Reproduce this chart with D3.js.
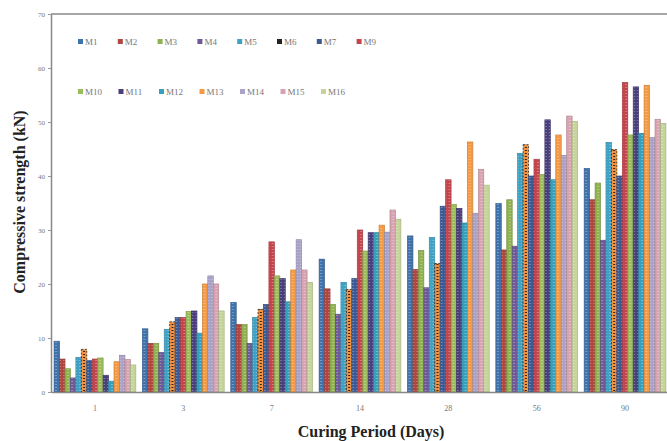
<!DOCTYPE html>
<html>
<head>
<meta charset="utf-8">
<script src="https://cdn.jsdelivr.net/npm/d3@7"></script>
<style>
  body { margin: 0; background: #fff; }
  svg { display: block; }
</style>
</head>
<body>
<div class="chart"></div>
<script>
// curing periods (days)
const periods = ["1", "3", "7", "14", "28", "56", "90"];
const mixes = ["M1", "M2", "M3", "M4", "M5", "M6", "M7", "M9", "M10", "M11", "M12", "M13", "M14", "M15", "M16"];
const colors = ["#3f72ab", "#b0463f", "#8fb150", "#6f5a98", "#3fa2c4", "#f39241", "#3b5a93", "#c4444c",
                "#9cbb5a", "#4a3f7d", "#35a0bd", "#f59a43", "#a9a3c8", "#d8a3b0", "#c5d49b"];

// strength per mix, one value per curing period
const M1  = [9.4, 11.7, 16.6, 24.6, 28.9, 34.9, 41.4];
const M2  = [6.1, 9.0, 12.5, 19.1, 22.7, 26.3, 35.6];
const M3  = [4.3, 9.0, 12.5, 16.2, 26.2, 35.6, 38.7];
const M4  = [2.6, 7.3, 9.0, 14.4, 19.3, 27.0, 28.1];
const M5  = [6.4, 11.6, 13.8, 20.3, 28.6, 44.2, 46.2];
const M6  = [7.9, 13.0, 15.3, 19.0, 23.8, 45.8, 44.9];
const M7  = [5.8, 13.8, 16.2, 21.0, 34.4, 40.0, 40.0];
const M9  = [6.1, 13.8, 27.8, 30.0, 39.3, 43.1, 57.3];
const M10 = [6.3, 14.9, 21.5, 26.1, 34.7, 40.3, 47.6];
const M11 = [3.1, 15.0, 21.0, 29.5, 34.0, 50.4, 56.5];
const M12 = [2.0, 10.9, 16.7, 29.5, 31.3, 39.3, 47.9];
const M13 = [5.6, 20.0, 22.6, 30.9, 46.3, 47.6, 56.8];
const M14 = [6.8, 21.5, 28.2, 29.6, 33.1, 43.8, 47.1];
const M15 = [6.0, 20.0, 22.6, 33.7, 41.2, 51.1, 50.5];
const M16 = [5.0, 15.0, 20.3, 32.0, 38.3, 50.1, 49.7];
const values = [M1, M2, M3, M4, M5, M6, M7, M9, M10, M11, M12, M13, M14, M15, M16];

const yTicks = [0, 10, 20, 30, 40, 50, 60, 70];

let data = [];
periods.forEach(function (p, i) {
    data.push({ period: p, vals: values.map(function (v) { return v[i]; }) });
});

let margin = {top: 14, right: 0, bottom: 49, left: 51},
    width = 618,
    height = 441 - margin.top - margin.bottom;

let svg = d3.select('.chart')
    .append("svg")
        .attr("width", 667)
        .attr("height", 441);

// bar textures
let defs = svg.append("defs");
colors.forEach(function (c, i) {
    let p = defs.append("pattern")
        .attr("id", "pat" + i)
        .attr("patternUnits", "userSpaceOnUse")
        .attr("width", 4)
        .attr("height", 3);
    p.append("rect").attr("width", 4).attr("height", 3).attr("fill", c);
    p.append("rect").attr("x", 1).attr("y", 1).attr("width", 2).attr("height", 1)
        .attr("fill", i === 5 ? "#111" : "#fff").attr("opacity", i === 5 ? 0.85 : 0.3);
});

let g = svg.append("g")
    .attr("transform", "translate(" + margin.left + "," + margin.top + ")");

const x0 = d3.scaleBand()
    .domain(periods)
    .range([0, width])
    .paddingInner(0.075)
    .paddingOuter(0.035);

const x1 = d3.scaleBand()
    .domain(mixes)
    .range([0, x0.bandwidth()]);

const y = d3.scaleLinear()
    .domain([0, 70])
    .range([height, 0]);

// bars
let groups = g.selectAll(".grp")
    .data(data)
    .enter().append("g")
    .attr("transform", function (d) { return "translate(" + x0(d.period) + ",0)"; });

groups.selectAll("rect")
    .data(function (d) { return d.vals.map(function (v, i) { return {mix: mixes[i], v: v, i: i}; }); })
    .enter().append("rect")
    .attr("x", function (d) { return x1(d.mix); })
    .attr("y", function (d) { return y(d.v); })
    .attr("width", x1.bandwidth())
    .attr("height", function (d) { return height - y(d.v); })
    .attr("fill", function (d) { return "url(#pat" + d.i + ")"; })
    .attr("stroke", function (d) { return d.i === 5 ? "#111" : d3.color(colors[d.i]).darker(0.5); })
    .attr("stroke-width", 0.7)
    .attr("stroke-dasharray", function (d) { return d.i === 5 ? "2,1.5" : null; });

// top border
g.append("line")
    .attr("x1", 0).attr("x2", width)
    .attr("y1", 0).attr("y2", 0)
    .attr("stroke", "#888").attr("stroke-width", 1.5);

// Y axis
let yAxis = g.append("g")
    .call(d3.axisLeft(y).tickValues(yTicks).tickSize(3).tickSizeOuter(0));
yAxis.select(".domain").attr("stroke", "#888").attr("stroke-width", 1.5);
yAxis.selectAll(".tick line").attr("stroke", "#999");
yAxis.selectAll("text")
    .attr("fill", "#777")
    .style("font-family", "Liberation Serif")
    .style("font-size", "7px");

// X axis
let xAxis = g.append("g")
    .attr("transform", "translate(0," + height + ")")
    .call(d3.axisBottom(x0).tickSize(0).tickSizeOuter(0).tickPadding(13));
xAxis.select(".domain").attr("stroke", "#888").attr("stroke-width", 1.5);
xAxis.selectAll("text")
    .attr("fill", "#777")
    .style("font-family", "Liberation Serif")
    .style("font-size", "8px");

// axis titles
svg.append("text")
    .attr("x", 371)
    .attr("y", 437)
    .attr("text-anchor", "middle")
    .style("font-family", "Liberation Serif")
    .style("font-weight", "bold")
    .style("font-size", "16px")
    .attr("fill", "#222")
    .text("Curing Period (Days)");

svg.append("text")
    .attr("transform", "translate(25,202) rotate(-90)")
    .attr("text-anchor", "middle")
    .style("font-family", "Liberation Serif")
    .style("font-weight", "bold")
    .style("font-size", "16px")
    .attr("fill", "#222")
    .text("Compressive strength (kN)");

// legend: two rows
let legend = svg.append("g");
mixes.forEach(function (m, i) {
    let row = i < 8 ? 0 : 1;
    let col = row === 0 ? i : i - 8;
    let lx = 78 + col * (row === 0 ? 39.8 : 40.5);
    let ly = row === 0 ? 42 : 92;
    legend.append("rect")
        .attr("x", lx).attr("y", ly - 3)
        .attr("width", 5).attr("height", 5)
        .attr("fill", i === 5 ? "#222" : colors[i]);
    legend.append("text")
        .attr("x", lx + 7).attr("y", ly + 3)
        .style("font-family", "Liberation Serif")
        .style("font-size", "9px")
        .attr("fill", "#777")
        .text(m);
});
</script>
</body>
</html>
